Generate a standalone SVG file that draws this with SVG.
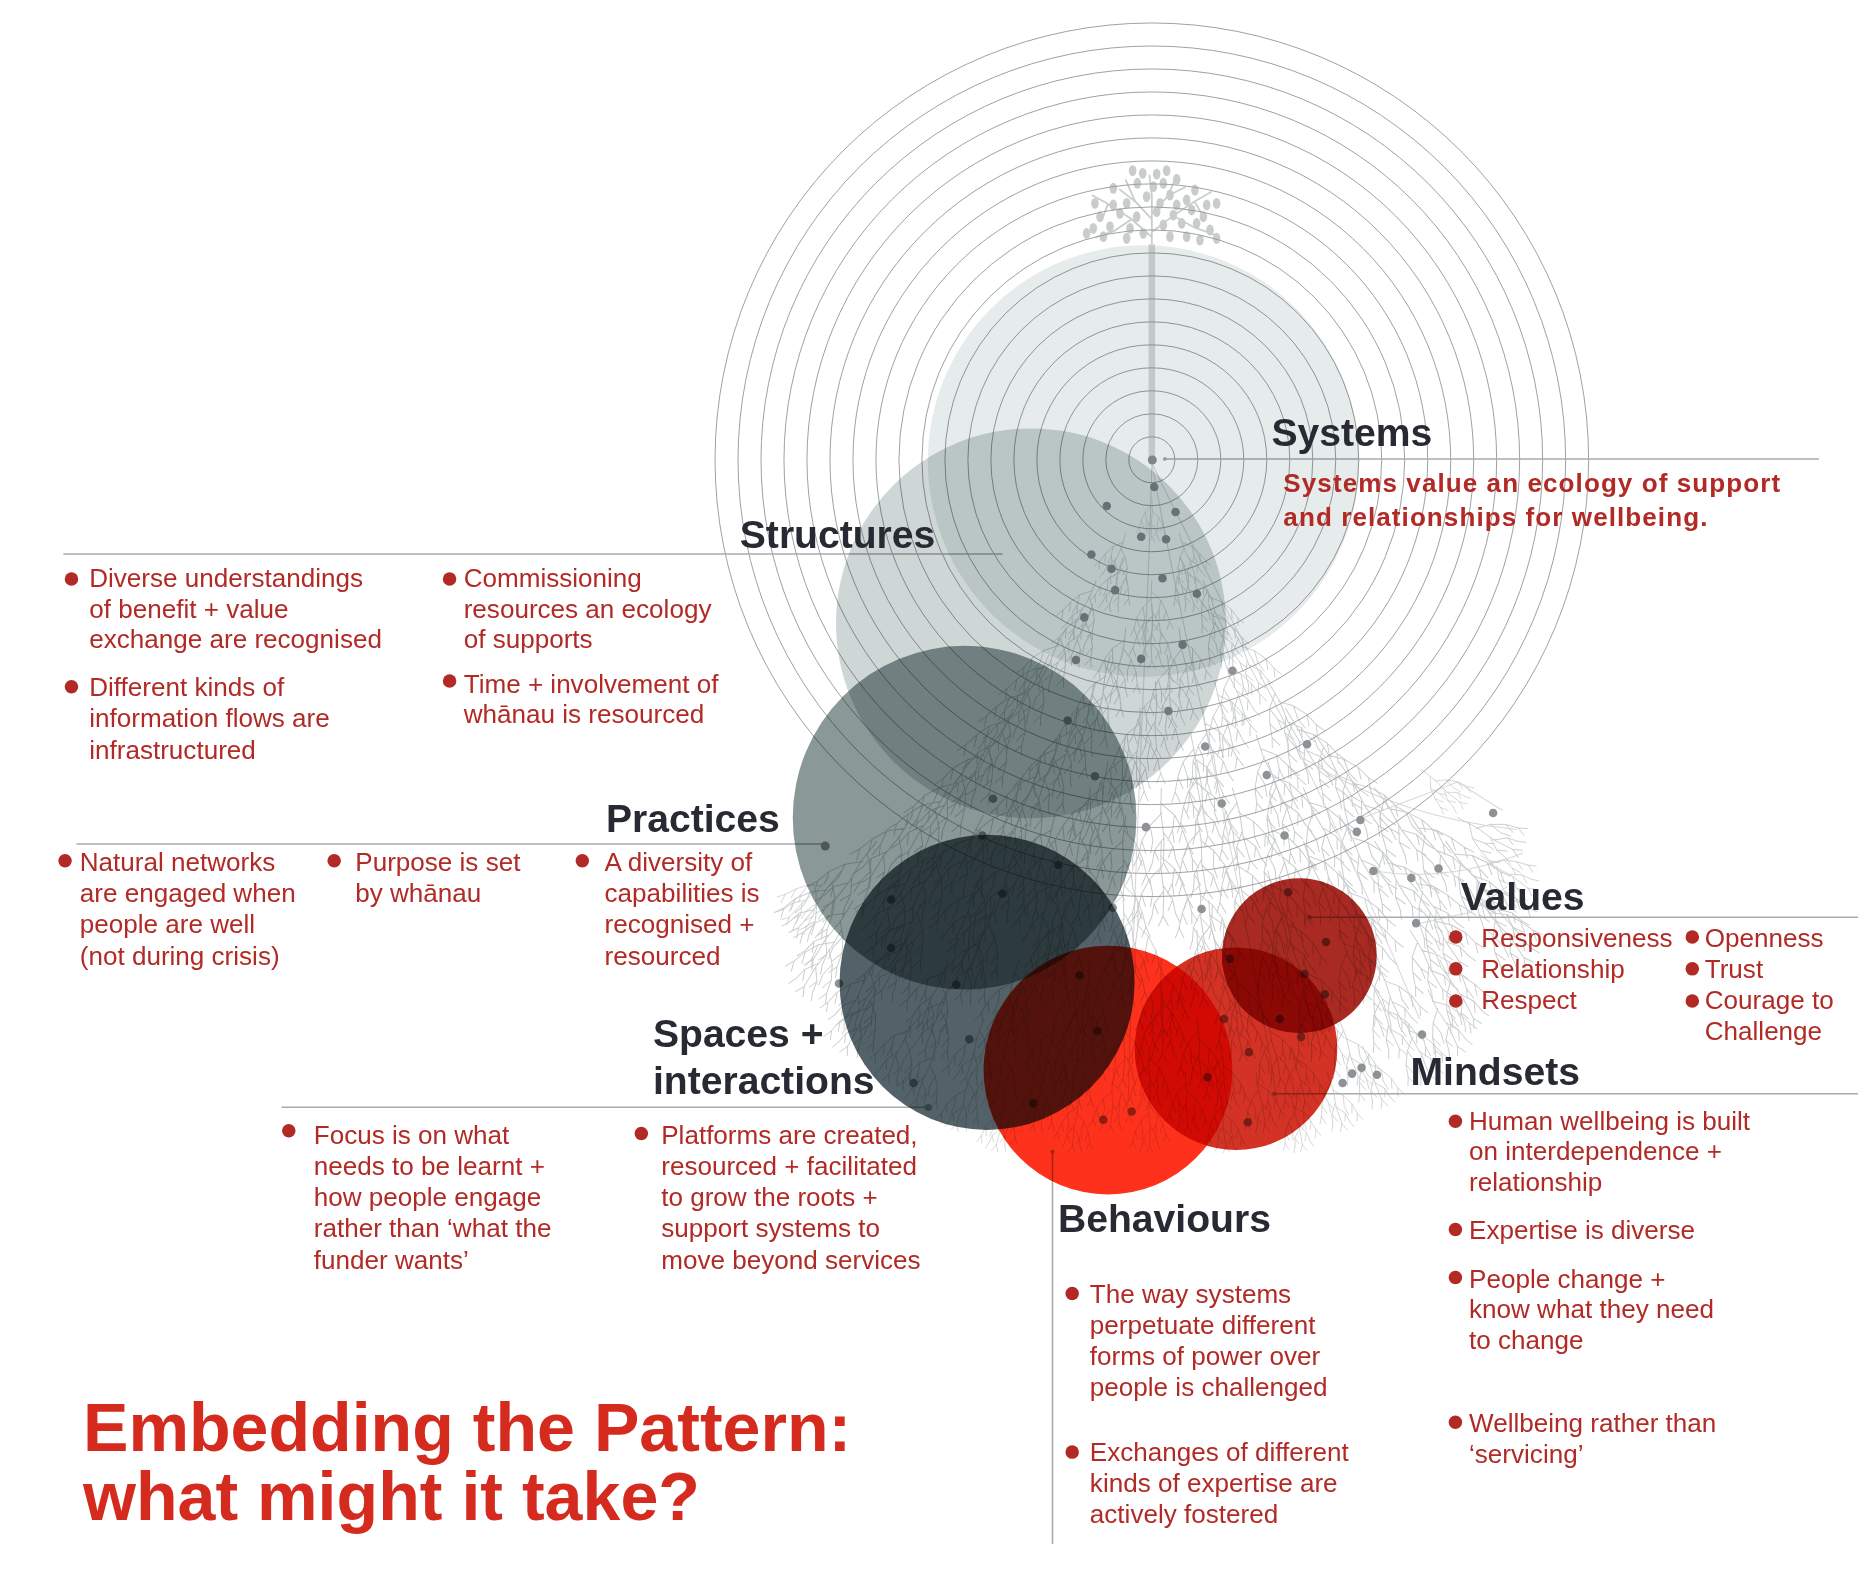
<svg xmlns="http://www.w3.org/2000/svg" xmlns:xlink="http://www.w3.org/1999/xlink" width="1858" height="1574" viewBox="0 0 1858 1574">
<style>
.h{font-family:"Liberation Sans",Arial,sans-serif;font-weight:bold;font-size:33px;fill:#272a33}
.t{font-family:"Liberation Sans",Arial,sans-serif;font-size:22px;fill:#b22a25}
.tb{font-family:"Liberation Sans",Arial,sans-serif;font-weight:bold;font-size:22px;letter-spacing:0.9px;fill:#b22a25}
.title{font-family:"Liberation Sans",Arial,sans-serif;font-weight:bold;font-size:57.5px;fill:#d52b1e}
.b{fill:#b22a25}
.ring{fill:none;stroke:#9a9a9a;stroke-width:0.8}
.lead{fill:none;stroke:#a8aaac;stroke-width:1.3}
.ldot{fill:#a8aaac}
.dot{fill:#8e9297}
.root{fill:none;stroke:#c9cdcd;stroke-width:0.8;stroke-linecap:round;stroke-linejoin:round}
.mainroot{fill:none;stroke:#d6d9d9;stroke-width:0.9}
.branch{fill:none;stroke:#c9cdcd;stroke-width:1.5;stroke-linecap:round}
.leaf{fill:#c8cccc}
.mb{mix-blend-mode:multiply}
</style>
<defs>
<path id="rootlet" class="root" d="M0,0 L1,20 L-1,40 L0,60 M1,12 L-10,22 L-16,34 L-20,46 M-10,22 L-8,34 L-9,44 M-16,34 L-13,44 M-20,46 L-24,54 M-20,46 L-17,55 M-8,34 L-4,42 M0,20 L10,30 L17,42 L20,54 M10,30 L8,42 L10,52 M17,42 L14,52 M20,54 L24,62 M20,54 L17,62 M-1,36 L-8,47 L-10,58 M-8,47 L-4,56 M-1,40 L7,50 L9,60 M7,50 L4,58 M0,60 L-4,68 M0,60 L4,68 M-10,58 L-13,65 M9,60 L12,67"/>
</defs>
<rect x="0" y="0" width="1858" height="1574" fill="#ffffff"/>
<g transform="scale(1.185)">

<g id="tree">
<g id="roots">
<path class="mainroot" d="M972,390 C970,500 960,650 952,930 M972,390 C990,500 1040,700 1078,930 M972,390 C1012,480 1100,620 1198,860 M1100,640 Q1180,690 1280,700 M1150,690 L1230,660 L1268,684 M1160,735 Q1220,745 1285,720 M1195,780 L1240,770 L1272,748"/>
<use xlink:href="#rootlet" transform="translate(972,420) rotate(0) scale(0.55)"/>
<use xlink:href="#rootlet" transform="translate(950,450) rotate(19.5) scale(0.65)"/>
<use xlink:href="#rootlet" transform="translate(995,450) rotate(-20.4) scale(-0.65,0.65)"/>
<use xlink:href="#rootlet" transform="translate(925,490) rotate(24.7) scale(0.75)"/>
<use xlink:href="#rootlet" transform="translate(972,490) rotate(0) scale(-0.75,0.75)"/>
<use xlink:href="#rootlet" transform="translate(1015,490) rotate(-22.9) scale(0.75)"/>
<use xlink:href="#rootlet" transform="translate(900,530) rotate(26.9) scale(-0.85,0.85)"/>
<use xlink:href="#rootlet" transform="translate(950,530) rotate(8.8) scale(0.85)"/>
<use xlink:href="#rootlet" transform="translate(995,530) rotate(-9.2) scale(-0.85,0.85)"/>
<use xlink:href="#rootlet" transform="translate(1040,530) rotate(-25.6) scale(0.85)"/>
<use xlink:href="#rootlet" transform="translate(870,575) rotate(28.6) scale(0.95)"/>
<use xlink:href="#rootlet" transform="translate(925,575) rotate(14.1) scale(-0.95,0.95)"/>
<use xlink:href="#rootlet" transform="translate(975,575) rotate(-0.9) scale(0.95)"/>
<use xlink:href="#rootlet" transform="translate(1025,575) rotate(-15.8) scale(-0.95,0.95)"/>
<use xlink:href="#rootlet" transform="translate(1070,575) rotate(-27.7) scale(0.95)"/>
<use xlink:href="#rootlet" transform="translate(840,620) rotate(29.6) scale(-1,1)"/>
<use xlink:href="#rootlet" transform="translate(895,620) rotate(18.4) scale(1)"/>
<use xlink:href="#rootlet" transform="translate(950,620) rotate(5.4) scale(-1,1)"/>
<use xlink:href="#rootlet" transform="translate(1005,620) rotate(-8.1) scale(1)"/>
<use xlink:href="#rootlet" transform="translate(1060,620) rotate(-20.8) scale(-1,1)"/>
<use xlink:href="#rootlet" transform="translate(1110,620) rotate(-30.7) scale(1)"/>
<use xlink:href="#rootlet" transform="translate(800,665) rotate(31.8) scale(1.05)"/>
<use xlink:href="#rootlet" transform="translate(860,665) rotate(22) scale(-1.05,1.05)"/>
<use xlink:href="#rootlet" transform="translate(920,665) rotate(10.6) scale(1.05)"/>
<use xlink:href="#rootlet" transform="translate(980,665) rotate(-1.7) scale(-1.05,1.05)"/>
<use xlink:href="#rootlet" transform="translate(1040,665) rotate(-13.8) scale(1.05)"/>
<use xlink:href="#rootlet" transform="translate(1100,665) rotate(-24.8) scale(-1.05,1.05)"/>
<use xlink:href="#rootlet" transform="translate(1160,665) rotate(-34.2) scale(1.05)"/>
<use xlink:href="#rootlet" transform="translate(740,710) rotate(35.8) scale(-1.05,1.05)"/>
<use xlink:href="#rootlet" transform="translate(800,710) rotate(28.1) scale(1.05)"/>
<use xlink:href="#rootlet" transform="translate(860,710) rotate(19.2) scale(-1.05,1.05)"/>
<use xlink:href="#rootlet" transform="translate(920,710) rotate(9.2) scale(1.05)"/>
<use xlink:href="#rootlet" transform="translate(980,710) rotate(-1.4) scale(-1.05,1.05)"/>
<use xlink:href="#rootlet" transform="translate(1040,710) rotate(-11.9) scale(1.05)"/>
<use xlink:href="#rootlet" transform="translate(1100,710) rotate(-21.7) scale(-1.05,1.05)"/>
<use xlink:href="#rootlet" transform="translate(1160,710) rotate(-30.3) scale(1.05)"/>
<use xlink:href="#rootlet" transform="translate(1220,710) rotate(-37.6) scale(-1.05,1.05)"/>
<use xlink:href="#rootlet" transform="translate(720,760) rotate(34.1) scale(1)"/>
<use xlink:href="#rootlet" transform="translate(780,760) rotate(27.3) scale(-1,1)"/>
<use xlink:href="#rootlet" transform="translate(840,760) rotate(19.5) scale(1)"/>
<use xlink:href="#rootlet" transform="translate(900,760) rotate(10.9) scale(-1,1)"/>
<use xlink:href="#rootlet" transform="translate(960,760) rotate(1.8) scale(1)"/>
<use xlink:href="#rootlet" transform="translate(1020,760) rotate(-7.4) scale(-1,1)"/>
<use xlink:href="#rootlet" transform="translate(1080,760) rotate(-16.2) scale(1)"/>
<use xlink:href="#rootlet" transform="translate(1140,760) rotate(-24.3) scale(-1,1)"/>
<use xlink:href="#rootlet" transform="translate(1200,760) rotate(-31.5) scale(1)"/>
<use xlink:href="#rootlet" transform="translate(1250,760) rotate(-36.8) scale(-1,1)"/>
<use xlink:href="#rootlet" transform="translate(740,810) rotate(28.8) scale(-0.95,0.95)"/>
<use xlink:href="#rootlet" transform="translate(800,810) rotate(22.2) scale(0.95)"/>
<use xlink:href="#rootlet" transform="translate(860,810) rotate(14.9) scale(-0.95,0.95)"/>
<use xlink:href="#rootlet" transform="translate(920,810) rotate(7) scale(0.95)"/>
<use xlink:href="#rootlet" transform="translate(980,810) rotate(-1.1) scale(-0.95,0.95)"/>
<use xlink:href="#rootlet" transform="translate(1040,810) rotate(-9.1) scale(0.95)"/>
<use xlink:href="#rootlet" transform="translate(1100,810) rotate(-16.9) scale(-0.95,0.95)"/>
<use xlink:href="#rootlet" transform="translate(1160,810) rotate(-24) scale(0.95)"/>
<use xlink:href="#rootlet" transform="translate(1215,810) rotate(-29.9) scale(-0.95,0.95)"/>
<use xlink:href="#rootlet" transform="translate(770,860) rotate(23.2) scale(0.85)"/>
<use xlink:href="#rootlet" transform="translate(830,860) rotate(16.7) scale(-0.85,0.85)"/>
<use xlink:href="#rootlet" transform="translate(890,860) rotate(9.9) scale(0.85)"/>
<use xlink:href="#rootlet" transform="translate(950,860) rotate(2.7) scale(-0.85,0.85)"/>
<use xlink:href="#rootlet" transform="translate(1010,860) rotate(-4.6) scale(0.85)"/>
<use xlink:href="#rootlet" transform="translate(1070,860) rotate(-11.7) scale(-0.85,0.85)"/>
<use xlink:href="#rootlet" transform="translate(1130,860) rotate(-18.5) scale(0.85)"/>
<use xlink:href="#rootlet" transform="translate(1185,860) rotate(-24.3) scale(-0.85,0.85)"/>
<use xlink:href="#rootlet" transform="translate(820,905) rotate(16.4) scale(-0.75,0.75)"/>
<use xlink:href="#rootlet" transform="translate(880,905) rotate(10.1) scale(0.75)"/>
<use xlink:href="#rootlet" transform="translate(940,905) rotate(3.5) scale(-0.75,0.75)"/>
<use xlink:href="#rootlet" transform="translate(1000,905) rotate(-3.1) scale(0.75)"/>
<use xlink:href="#rootlet" transform="translate(1060,905) rotate(-9.7) scale(-0.75,0.75)"/>
<use xlink:href="#rootlet" transform="translate(1120,905) rotate(-16) scale(0.75)"/>
<use xlink:href="#rootlet" transform="translate(1230,690) rotate(-60) scale(0.9)"/>
<use xlink:href="#rootlet" transform="translate(1250,722) rotate(-55) scale(-0.8,0.8)"/>
<use xlink:href="#rootlet" transform="translate(1200,650) rotate(-50) scale(0.7)"/>
<use xlink:href="#rootlet" transform="translate(700,740) rotate(45) scale(0.8)"/>
<use xlink:href="#rootlet" transform="translate(948,470) rotate(16.3) scale(-0.7,0.7)"/>
<use xlink:href="#rootlet" transform="translate(996,470) rotate(-16.3) scale(0.7)"/>
<use xlink:href="#rootlet" transform="translate(922,510) rotate(22.3) scale(0.8)"/>
<use xlink:href="#rootlet" transform="translate(972,510) rotate(0) scale(0.8)"/>
<use xlink:href="#rootlet" transform="translate(1020,510) rotate(-21.5) scale(-0.8,0.8)"/>
<use xlink:href="#rootlet" transform="translate(885,553) rotate(27.8) scale(0.9)"/>
<use xlink:href="#rootlet" transform="translate(937,553) rotate(12) scale(-0.9,0.9)"/>
<use xlink:href="#rootlet" transform="translate(985,553) rotate(-4.5) scale(0.9)"/>
<use xlink:href="#rootlet" transform="translate(1032,553) rotate(-20) scale(-0.9,0.9)"/>
<use xlink:href="#rootlet" transform="translate(855,598) rotate(29.1) scale(1)"/>
<use xlink:href="#rootlet" transform="translate(910,598) rotate(16.5) scale(-1,1)"/>
<use xlink:href="#rootlet" transform="translate(962,598) rotate(2.7) scale(1)"/>
<use xlink:href="#rootlet" transform="translate(1015,598) rotate(-11.6) scale(-1,1)"/>
<use xlink:href="#rootlet" transform="translate(1085,598) rotate(-28.3) scale(1)"/>
<use xlink:href="#rootlet" transform="translate(818,643) rotate(31.1) scale(-1.05,1.05)"/>
<use xlink:href="#rootlet" transform="translate(878,643) rotate(20.2) scale(1.05)"/>
<use xlink:href="#rootlet" transform="translate(935,643) rotate(8.3) scale(-1.05,1.05)"/>
<use xlink:href="#rootlet" transform="translate(1010,643) rotate(-8.5) scale(1.05)"/>
<use xlink:href="#rootlet" transform="translate(1070,643) rotate(-21) scale(-1.05,1.05)"/>
<use xlink:href="#rootlet" transform="translate(1130,643) rotate(-31.8) scale(1.05)"/>
<use xlink:href="#rootlet" transform="translate(770,688) rotate(34) scale(1.05)"/>
<use xlink:href="#rootlet" transform="translate(830,688) rotate(25.3) scale(-1.05,1.05)"/>
<use xlink:href="#rootlet" transform="translate(890,688) rotate(15.3) scale(1.05)"/>
<use xlink:href="#rootlet" transform="translate(950,688) rotate(4.2) scale(-1.05,1.05)"/>
<use xlink:href="#rootlet" transform="translate(1010,688) rotate(-7.2) scale(1.05)"/>
<use xlink:href="#rootlet" transform="translate(1070,688) rotate(-18.1) scale(-1.05,1.05)"/>
<use xlink:href="#rootlet" transform="translate(1130,688) rotate(-27.8) scale(1.05)"/>
<use xlink:href="#rootlet" transform="translate(1190,688) rotate(-36) scale(-1.05,1.05)"/>
<use xlink:href="#rootlet" transform="translate(710,735) rotate(37) scale(-1,1)"/>
<use xlink:href="#rootlet" transform="translate(770,735) rotate(30.2) scale(1)"/>
<use xlink:href="#rootlet" transform="translate(830,735) rotate(22.3) scale(-1,1)"/>
<use xlink:href="#rootlet" transform="translate(890,735) rotate(13.3) scale(1)"/>
<use xlink:href="#rootlet" transform="translate(950,735) rotate(3.6) scale(-1,1)"/>
<use xlink:href="#rootlet" transform="translate(1010,735) rotate(-6.2) scale(1)"/>
<use xlink:href="#rootlet" transform="translate(1070,735) rotate(-15.8) scale(-1,1)"/>
<use xlink:href="#rootlet" transform="translate(1130,735) rotate(-24.5) scale(1)"/>
<use xlink:href="#rootlet" transform="translate(1190,735) rotate(-32.1) scale(-1,1)"/>
<use xlink:href="#rootlet" transform="translate(1240,735) rotate(-37.7) scale(1)"/>
<use xlink:href="#rootlet" transform="translate(710,785) rotate(33.4) scale(0.95)"/>
<use xlink:href="#rootlet" transform="translate(770,785) rotate(27) scale(-0.95,0.95)"/>
<use xlink:href="#rootlet" transform="translate(830,785) rotate(19.7) scale(0.95)"/>
<use xlink:href="#rootlet" transform="translate(890,785) rotate(11.7) scale(-0.95,0.95)"/>
<use xlink:href="#rootlet" transform="translate(950,785) rotate(3.2) scale(0.95)"/>
<use xlink:href="#rootlet" transform="translate(1010,785) rotate(-5.5) scale(-0.95,0.95)"/>
<use xlink:href="#rootlet" transform="translate(1070,785) rotate(-13.9) scale(0.95)"/>
<use xlink:href="#rootlet" transform="translate(1130,785) rotate(-21.7) scale(-0.95,0.95)"/>
<use xlink:href="#rootlet" transform="translate(1190,785) rotate(-28.8) scale(0.95)"/>
<use xlink:href="#rootlet" transform="translate(740,835) rotate(27.4) scale(-0.9,0.9)"/>
<use xlink:href="#rootlet" transform="translate(800,835) rotate(21) scale(0.9)"/>
<use xlink:href="#rootlet" transform="translate(860,835) rotate(14) scale(-0.9,0.9)"/>
<use xlink:href="#rootlet" transform="translate(920,835) rotate(6.6) scale(0.9)"/>
<use xlink:href="#rootlet" transform="translate(980,835) rotate(-1) scale(-0.9,0.9)"/>
<use xlink:href="#rootlet" transform="translate(1040,835) rotate(-8.7) scale(0.9)"/>
<use xlink:href="#rootlet" transform="translate(1100,835) rotate(-16) scale(-0.9,0.9)"/>
<use xlink:href="#rootlet" transform="translate(1160,835) rotate(-22.8) scale(0.9)"/>
<use xlink:href="#rootlet" transform="translate(1205,835) rotate(-27.5) scale(-0.9,0.9)"/>
<use xlink:href="#rootlet" transform="translate(790,883) rotate(20.2) scale(0.8)"/>
<use xlink:href="#rootlet" transform="translate(850,883) rotate(13.8) scale(-0.8,0.8)"/>
<use xlink:href="#rootlet" transform="translate(910,883) rotate(7.1) scale(0.8)"/>
<use xlink:href="#rootlet" transform="translate(970,883) rotate(0.2) scale(-0.8,0.8)"/>
<use xlink:href="#rootlet" transform="translate(1030,883) rotate(-6.7) scale(0.8)"/>
<use xlink:href="#rootlet" transform="translate(1090,883) rotate(-13.4) scale(-0.8,0.8)"/>
<use xlink:href="#rootlet" transform="translate(1150,883) rotate(-19.8) scale(0.8)"/>
<use xlink:href="#rootlet" transform="translate(850,925) rotate(12.8) scale(-0.7,0.7)"/>
<use xlink:href="#rootlet" transform="translate(910,925) rotate(6.6) scale(0.7)"/>
<use xlink:href="#rootlet" transform="translate(970,925) rotate(0) scale(-0.7,0.7)"/>
<use xlink:href="#rootlet" transform="translate(1030,925) rotate(-6.2) scale(0.7)"/>
<use xlink:href="#rootlet" transform="translate(1090,925) rotate(-12.4) scale(-0.7,0.7)"/>
</g>
<g id="crown">
<path class="branch" d="M972,210 L972,165 L970,148 M972,200 L955,185 L935,172 L922,165 M972,196 L990,182 L1008,170 L1022,162 M972,185 L958,170 L950,152 M972,180 L986,165 L992,150 M955,185 L940,195 L925,200 M990,182 L1008,192 L1025,198 M935,172 L930,185 M1008,170 L1015,182 M958,170 L945,160 M986,165 L1000,158"/>
<ellipse class="leaf" cx="955.8" cy="144" rx="3.2" ry="4.6"/>
<ellipse class="leaf" cx="964.3" cy="146.3" rx="3.2" ry="4.6"/>
<ellipse class="leaf" cx="976.1" cy="146.9" rx="3.2" ry="4.6"/>
<ellipse class="leaf" cx="984.5" cy="144" rx="3.2" ry="4.6"/>
<ellipse class="leaf" cx="993" cy="151.4" rx="3.2" ry="4.6"/>
<ellipse class="leaf" cx="959.8" cy="154.7" rx="3.2" ry="4.6"/>
<ellipse class="leaf" cx="973.3" cy="157.5" rx="3.2" ry="4.6"/>
<ellipse class="leaf" cx="981.7" cy="154.7" rx="3.2" ry="4.6"/>
<ellipse class="leaf" cx="1008.4" cy="160.4" rx="3.2" ry="4.6"/>
<ellipse class="leaf" cx="939.5" cy="158.9" rx="3.2" ry="4.6"/>
<ellipse class="leaf" cx="967.6" cy="166" rx="3.2" ry="4.6"/>
<ellipse class="leaf" cx="987.3" cy="164.6" rx="3.2" ry="4.6"/>
<ellipse class="leaf" cx="1001.4" cy="168.8" rx="3.2" ry="4.6"/>
<ellipse class="leaf" cx="924" cy="171.6" rx="3.2" ry="4.6"/>
<ellipse class="leaf" cx="939.5" cy="173" rx="3.2" ry="4.6"/>
<ellipse class="leaf" cx="950.8" cy="171.6" rx="3.2" ry="4.6"/>
<ellipse class="leaf" cx="978.9" cy="171.6" rx="3.2" ry="4.6"/>
<ellipse class="leaf" cx="993" cy="173" rx="3.2" ry="4.6"/>
<ellipse class="leaf" cx="1018.3" cy="173" rx="3.2" ry="4.6"/>
<ellipse class="leaf" cx="1026.7" cy="171.6" rx="3.2" ry="4.6"/>
<ellipse class="leaf" cx="928.3" cy="182.9" rx="3.2" ry="4.6"/>
<ellipse class="leaf" cx="945.1" cy="180" rx="3.2" ry="4.6"/>
<ellipse class="leaf" cx="959.2" cy="182.9" rx="3.2" ry="4.6"/>
<ellipse class="leaf" cx="976.1" cy="178.6" rx="3.2" ry="4.6"/>
<ellipse class="leaf" cx="990.1" cy="181.5" rx="3.2" ry="4.6"/>
<ellipse class="leaf" cx="1005.6" cy="177.2" rx="3.2" ry="4.6"/>
<ellipse class="leaf" cx="1015.5" cy="182.9" rx="3.2" ry="4.6"/>
<ellipse class="leaf" cx="922.6" cy="192.7" rx="3.2" ry="4.6"/>
<ellipse class="leaf" cx="936.7" cy="191.3" rx="3.2" ry="4.6"/>
<ellipse class="leaf" cx="953.6" cy="192.7" rx="3.2" ry="4.6"/>
<ellipse class="leaf" cx="981.7" cy="189.9" rx="3.2" ry="4.6"/>
<ellipse class="leaf" cx="997.2" cy="188.5" rx="3.2" ry="4.6"/>
<ellipse class="leaf" cx="1009.8" cy="188.5" rx="3.2" ry="4.6"/>
<ellipse class="leaf" cx="1021.1" cy="194.1" rx="3.2" ry="4.6"/>
<ellipse class="leaf" cx="917" cy="196.9" rx="3.2" ry="4.6"/>
<ellipse class="leaf" cx="931.1" cy="199.7" rx="3.2" ry="4.6"/>
<ellipse class="leaf" cx="950.8" cy="201.1" rx="3.2" ry="4.6"/>
<ellipse class="leaf" cx="964.8" cy="196.9" rx="3.2" ry="4.6"/>
<ellipse class="leaf" cx="987.3" cy="199.7" rx="3.2" ry="4.6"/>
<ellipse class="leaf" cx="1001.4" cy="199.7" rx="3.2" ry="4.6"/>
<ellipse class="leaf" cx="1012.6" cy="202.6" rx="3.2" ry="4.6"/>
<ellipse class="leaf" cx="1026.7" cy="201.1" rx="3.2" ry="4.6"/>
</g>
<line x1="972" y1="206" x2="972" y2="386" stroke="#d6dada" stroke-width="5.5"/>
</g>

<g id="rings">
<circle class="ring" cx="972" cy="388" r="19.4"/>
<circle class="ring" cx="972" cy="388" r="38.8"/>
<circle class="ring" cx="972" cy="388" r="58.2"/>
<circle class="ring" cx="972" cy="388" r="77.6"/>
<circle class="ring" cx="972" cy="388" r="97"/>
<circle class="ring" cx="972" cy="388" r="116.4"/>
<circle class="ring" cx="972" cy="388" r="135.8"/>
<circle class="ring" cx="972" cy="388" r="155.2"/>
<circle class="ring" cx="972" cy="388" r="174.6"/>
<circle class="ring" cx="972" cy="388" r="194"/>
<circle class="ring" cx="972" cy="388" r="213.4"/>
<circle class="ring" cx="972" cy="388" r="232.8"/>
<circle class="ring" cx="972" cy="388" r="252.2"/>
<circle class="ring" cx="972" cy="388" r="271.6"/>
<circle class="ring" cx="972" cy="388" r="291"/>
<circle class="ring" cx="972" cy="388" r="310.4"/>
<circle class="ring" cx="972" cy="388" r="329.8"/>
<circle class="ring" cx="972" cy="388" r="349.2"/>
<circle class="ring" cx="972" cy="388" r="368.6"/>
</g>

<g id="dots">
<circle class="dot" cx="972.4" cy="388.2" r="3.8"/>
<circle class="dot" cx="974" cy="411" r="3.6"/>
<circle class="dot" cx="934" cy="427" r="3.6"/>
<circle class="dot" cx="992" cy="432" r="3.6"/>
<circle class="dot" cx="963" cy="453" r="3.6"/>
<circle class="dot" cx="984" cy="455" r="3.6"/>
<circle class="dot" cx="921" cy="468" r="3.6"/>
<circle class="dot" cx="938" cy="480" r="3.6"/>
<circle class="dot" cx="981" cy="488" r="3.6"/>
<circle class="dot" cx="941" cy="498" r="3.6"/>
<circle class="dot" cx="1010" cy="501" r="3.6"/>
<circle class="dot" cx="915" cy="521" r="3.6"/>
<circle class="dot" cx="998" cy="544" r="3.6"/>
<circle class="dot" cx="908" cy="557" r="3.6"/>
<circle class="dot" cx="963" cy="556" r="3.6"/>
<circle class="dot" cx="1040" cy="566" r="3.6"/>
<circle class="dot" cx="901" cy="608" r="3.6"/>
<circle class="dot" cx="986" cy="600" r="3.6"/>
<circle class="dot" cx="1103" cy="628" r="3.6"/>
<circle class="dot" cx="1017" cy="630" r="3.6"/>
<circle class="dot" cx="924" cy="655" r="3.6"/>
<circle class="dot" cx="1069" cy="654" r="3.6"/>
<circle class="dot" cx="838" cy="674" r="3.6"/>
<circle class="dot" cx="1031" cy="678" r="3.6"/>
<circle class="dot" cx="1148" cy="692" r="3.6"/>
<circle class="dot" cx="1145" cy="702" r="3.6"/>
<circle class="dot" cx="1260" cy="686" r="3.6"/>
<circle class="dot" cx="967" cy="698" r="3.6"/>
<circle class="dot" cx="1084" cy="705" r="3.6"/>
<circle class="dot" cx="829" cy="705" r="3.6"/>
<circle class="dot" cx="893" cy="730" r="3.6"/>
<circle class="dot" cx="1159" cy="735" r="3.6"/>
<circle class="dot" cx="1191" cy="741" r="3.6"/>
<circle class="dot" cx="1214" cy="733" r="3.6"/>
<circle class="dot" cx="752" cy="759" r="3.6"/>
<circle class="dot" cx="846" cy="754" r="3.6"/>
<circle class="dot" cx="939" cy="766" r="3.6"/>
<circle class="dot" cx="1014" cy="767" r="3.6"/>
<circle class="dot" cx="1087" cy="753" r="3.6"/>
<circle class="dot" cx="1195" cy="779" r="3.6"/>
<circle class="dot" cx="752" cy="800" r="3.6"/>
<circle class="dot" cx="807" cy="831" r="3.6"/>
<circle class="dot" cx="708" cy="830" r="3.6"/>
<circle class="dot" cx="1119" cy="795" r="3.6"/>
<circle class="dot" cx="1038" cy="809" r="3.6"/>
<circle class="dot" cx="1101" cy="822" r="3.6"/>
<circle class="dot" cx="1118" cy="839" r="3.6"/>
<circle class="dot" cx="911" cy="823" r="3.6"/>
<circle class="dot" cx="1033" cy="860" r="3.6"/>
<circle class="dot" cx="1080" cy="860" r="3.6"/>
<circle class="dot" cx="1098" cy="875" r="3.6"/>
<circle class="dot" cx="926" cy="870" r="3.6"/>
<circle class="dot" cx="818" cy="877" r="3.6"/>
<circle class="dot" cx="1054" cy="888" r="3.6"/>
<circle class="dot" cx="1019" cy="909" r="3.6"/>
<circle class="dot" cx="771" cy="914" r="3.6"/>
<circle class="dot" cx="872" cy="931" r="3.6"/>
<circle class="dot" cx="955" cy="938" r="3.6"/>
<circle class="dot" cx="931" cy="945" r="3.6"/>
<circle class="dot" cx="1053" cy="947" r="3.6"/>
<circle class="dot" cx="1133" cy="914" r="3.6"/>
<circle class="dot" cx="1141" cy="906" r="3.6"/>
<circle class="dot" cx="1149" cy="901" r="3.6"/>
<circle class="dot" cx="1162" cy="907" r="3.6"/>
<circle class="dot" cx="1200" cy="873" r="3.6"/>
</g>

<g id="connectors">
<line class="lead" x1="983" y1="387.3" x2="1535" y2="387.3"/>
<circle class="ldot" cx="983" cy="387.3" r="1.6"/>
<line class="lead" x1="53.5" y1="467.5" x2="846" y2="467.5"/>
<line class="lead" x1="64.5" y1="712.2" x2="696" y2="712.2"/>
<circle class="dot" cx="696.4" cy="713.9" r="3.8"/>
<line class="lead" x1="237.5" y1="934.4" x2="783.5" y2="934.4"/>
<circle class="ldot" cx="783.5" cy="934.6" r="3"/>
<line class="lead" x1="1105" y1="774" x2="1568" y2="774"/>
<circle class="ldot" cx="1105.2" cy="774" r="1.8"/>
<line class="lead" x1="1075" y1="923" x2="1568" y2="923"/>
<circle class="ldot" cx="1075.4" cy="923" r="1.8"/>
<line class="lead" x1="888.2" y1="972" x2="888.2" y2="1303"/>
<circle class="ldot" cx="888.2" cy="972" r="1.8"/>
</g>

<g id="node-systems">
<circle class="mb" cx="965" cy="389" r="182" fill="#e6ebeb"/>
<text class="h" x="1073" y="376">Systems</text>
<text class="tb"><tspan x="1083" y="415">Systems value an ecology of support</tspan><tspan x="1083" y="444">and relationships for wellbeing.</tspan></text>
</g>

<g id="node-structures">
<circle class="mb" cx="870" cy="526" r="164.5" fill="#cfd6d6"/>
<text class="h" x="624.3" y="462.7">Structures</text>
<circle class="b" cx="60.3" cy="488.6" r="5.7"/>
<text class="t"><tspan x="75.3" y="495.6">Diverse understandings</tspan><tspan x="75.3" y="521.3">of benefit + value</tspan><tspan x="75.3" y="547">exchange are recognised</tspan></text>
<circle class="b" cx="60.3" cy="579.5" r="5.7"/>
<text class="t"><tspan x="75.3" y="587.3">Different kinds of</tspan><tspan x="75.3" y="613.8">information flows are</tspan><tspan x="75.3" y="640.2">infrastructured</tspan></text>
<circle class="b" cx="379.4" cy="488.6" r="5.7"/>
<text class="t"><tspan x="391.3" y="495.6">Commissioning</tspan><tspan x="391.3" y="521.3">resources an ecology</tspan><tspan x="391.3" y="547">of supports</tspan></text>
<circle class="b" cx="379.4" cy="574.7" r="5.7"/>
<text class="t"><tspan x="391.3" y="584.5">Time + involvement of</tspan><tspan x="391.3" y="610">whānau is resourced</tspan></text>
</g>

<g id="node-practices">
<circle class="mb" cx="814" cy="690" r="145" fill="#8a9898"/>
<text class="h" x="511.3" y="701.8">Practices</text>
<circle class="b" cx="54.9" cy="726.3" r="5.7"/>
<text class="t"><tspan x="67.3" y="734.7">Natural networks</tspan><tspan x="67.3" y="761.2">are engaged when</tspan><tspan x="67.3" y="787.6">people are well</tspan><tspan x="67.3" y="814.2">(not during crisis)</tspan></text>
<circle class="b" cx="282" cy="726.3" r="5.7"/>
<text class="t"><tspan x="299.8" y="734.7">Purpose is set</tspan><tspan x="299.8" y="761.2">by whānau</tspan></text>
<circle class="b" cx="491.4" cy="726.3" r="5.7"/>
<text class="t"><tspan x="510.2" y="734.7">A diversity of</tspan><tspan x="510.2" y="761.2">capabilities is</tspan><tspan x="510.2" y="787.6">recognised +</tspan><tspan x="510.2" y="814.2">resourced</tspan></text>
</g>

<g id="node-spaces">
<circle class="mb" cx="833" cy="829" r="124.5" fill="#536168"/>
<text class="h"><tspan x="551" y="883.5">Spaces +</tspan><tspan x="551" y="923.5">interactions</tspan></text>
<circle class="b" cx="243.7" cy="954.2" r="5.7"/>
<text class="t"><tspan x="264.8" y="965.3">Focus is on what</tspan><tspan x="264.8" y="991.6">needs to be learnt +</tspan><tspan x="264.8" y="1017.9">how people engage</tspan><tspan x="264.8" y="1044.3">rather than ‘what the</tspan><tspan x="264.8" y="1070.6">funder wants’</tspan></text>
<circle class="b" cx="541.2" cy="956.6" r="5.7"/>
<text class="t"><tspan x="558" y="965.3">Platforms are created,</tspan><tspan x="558" y="991.6">resourced + facilitated</tspan><tspan x="558" y="1017.9">to grow the roots +</tspan><tspan x="558" y="1044.3">support systems to</tspan><tspan x="558" y="1070.6">move beyond services</tspan></text>
</g>

<g id="node-behaviours">
<circle class="mb" cx="935" cy="903" r="105" fill="#fe321c"/>
<text class="h" x="892.8" y="1040">Behaviours</text>
<circle class="b" cx="904.8" cy="1091.6" r="5.7"/>
<text class="t"><tspan x="919.7" y="1099.2">The way systems</tspan><tspan x="919.7" y="1125.5">perpetuate different</tspan><tspan x="919.7" y="1151.8">forms of power over</tspan><tspan x="919.7" y="1178.1">people is challenged</tspan></text>
<circle class="b" cx="904.8" cy="1225.4" r="5.7"/>
<text class="t"><tspan x="919.7" y="1233.3">Exchanges of different</tspan><tspan x="919.7" y="1259.4">kinds of expertise are</tspan><tspan x="919.7" y="1285.5">actively fostered</tspan></text>
</g>

<g id="node-mindsets">
<circle class="mb" cx="1043" cy="885" r="85.5" fill="#d33224"/>
<text class="h" x="1190.3" y="915.7">Mindsets</text>
<circle class="b" cx="1228.2" cy="946.2" r="5.7"/>
<text class="t"><tspan x="1239.7" y="953.2">Human wellbeing is built</tspan><tspan x="1239.7" y="979.3">on interdependence +</tspan><tspan x="1239.7" y="1005.2">relationship</tspan></text>
<circle class="b" cx="1228.2" cy="1037.6" r="5.7"/>
<text class="t" x="1239.7" y="1045.6">Expertise is diverse</text>
<circle class="b" cx="1228.2" cy="1078" r="5.7"/>
<text class="t"><tspan x="1239.7" y="1086.5">People change +</tspan><tspan x="1239.7" y="1112.2">know what they need</tspan><tspan x="1239.7" y="1138">to change</tspan></text>
<circle class="b" cx="1228.2" cy="1200.2" r="5.7"/>
<text class="t"><tspan x="1239.7" y="1208.4">Wellbeing rather than</tspan><tspan x="1239.7" y="1234.2">‘servicing’</tspan></text>
</g>

<g id="node-values">
<circle class="mb" cx="1096.5" cy="806.5" r="65.3" fill="#a82a22"/>
<text class="h" x="1232.6" y="768.1">Values</text>
<circle class="b" cx="1228.5" cy="790.7" r="5.7"/>
<circle class="b" cx="1228.5" cy="817.6" r="5.7"/>
<circle class="b" cx="1228.5" cy="844.7" r="5.7"/>
<text class="t"><tspan x="1250" y="798.8">Responsiveness</tspan><tspan x="1250" y="825.3">Relationship</tspan><tspan x="1250" y="851.6">Respect</tspan></text>
<circle class="b" cx="1428.1" cy="790.7" r="5.7"/>
<circle class="b" cx="1428.1" cy="817.6" r="5.7"/>
<circle class="b" cx="1428.1" cy="844.7" r="5.7"/>
<text class="t"><tspan x="1438.6" y="798.8">Openness</tspan><tspan x="1438.6" y="825.3">Trust</tspan><tspan x="1438.6" y="851.6">Courage to</tspan><tspan x="1438.6" y="878">Challenge</tspan></text>
</g>

<g id="title">
<text class="title"><tspan x="70" y="1224.5">Embedding the Pattern:</tspan><tspan x="70" y="1283.1">what might it take?</tspan></text>
</g>

</g>
</svg>
